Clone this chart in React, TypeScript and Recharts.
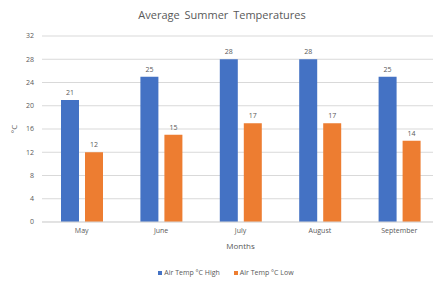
import React from 'react';
import { BarChart, Bar, XAxis, YAxis, CartesianGrid, LabelList, Label } from 'recharts';

const months = ['May', 'June', 'July', 'August', 'September'];
const highs = [21, 25, 28, 28, 25];
const lows = [12, 15, 17, 17, 14];
const yTicks = [0, 4, 8, 12, 16, 20, 24, 28, 32];
const seriesNames = ['Air Temp °C High', 'Air Temp °C Low'];
const colors = ['#4472C4', '#ED7D31'];

const data = months.map((m, i) => ({ month: m, high: highs[i], low: lows[i] }));

const FONT = '"Open Sans", "Liberation Sans", sans-serif';
const TEXT = '#595959';

export default function App() {
  return (
    <div style={{ position: 'fixed', left: 0, top: 0, width: 433, height: 282, overflow: 'hidden', background: '#fff', fontFamily: FONT }}>
      <div style={{ position: 'absolute', left: 0, width: 444, top: 7, textAlign: 'center', fontSize: 11, lineHeight: '16px', color: TEXT, wordSpacing: 2 }}>
        Average Summer Temperatures
      </div>
      <BarChart width={440} height={282} data={data} margin={{ top: 36, right: 1, bottom: 30, left: 0 }} barGap={6}>
        <CartesianGrid vertical={false} stroke="#d9d9d9" />
        <XAxis dataKey="month" height={30} tickLine={false} axisLine={{ stroke: '#d9d9d9' }} tick={{ fontSize: 7, fill: TEXT, fontFamily: FONT }} tickMargin={0} interval={0}>
          <Label value="Months" position="insideBottom" offset={3} style={{ fontSize: 8, fill: TEXT, fontFamily: FONT }} />
        </XAxis>
        <YAxis width={42} domain={[0, 32]} ticks={yTicks} tickLine={false} axisLine={false} tick={{ fontSize: 7, fill: TEXT, fontFamily: FONT }}>
          <Label value="°C" angle={-90} position="insideLeft" offset={14} style={{ fontSize: 8, fill: TEXT, fontFamily: FONT, textAnchor: 'middle' }} />
        </YAxis>
        <Bar dataKey="high" name={seriesNames[0]} fill={colors[0]} barSize={18} isAnimationActive={false}>
          <LabelList dataKey="high" position="top" offset={5} style={{ fontSize: 7, fill: TEXT, fontFamily: FONT }} />
        </Bar>
        <Bar dataKey="low" name={seriesNames[1]} fill={colors[1]} barSize={18} isAnimationActive={false}>
          <LabelList dataKey="low" position="top" offset={5} style={{ fontSize: 7, fill: TEXT, fontFamily: FONT }} />
        </Bar>
      </BarChart>
      <div style={{ position: 'absolute', left: 0, width: 452, top: 267, height: 12, lineHeight: '12px', display: 'flex', justifyContent: 'center', alignItems: 'center', gap: 14, fontSize: 7, color: TEXT }}>
        {seriesNames.map((n, i) => (
          <span key={n} style={{ display: 'inline-flex', alignItems: 'center', whiteSpace: 'nowrap' }}>
            <span style={{ display: 'inline-block', width: 4, height: 4, background: colors[i], marginRight: 2 }} />
            {n}
          </span>
        ))}
      </div>
    </div>
  );
}
